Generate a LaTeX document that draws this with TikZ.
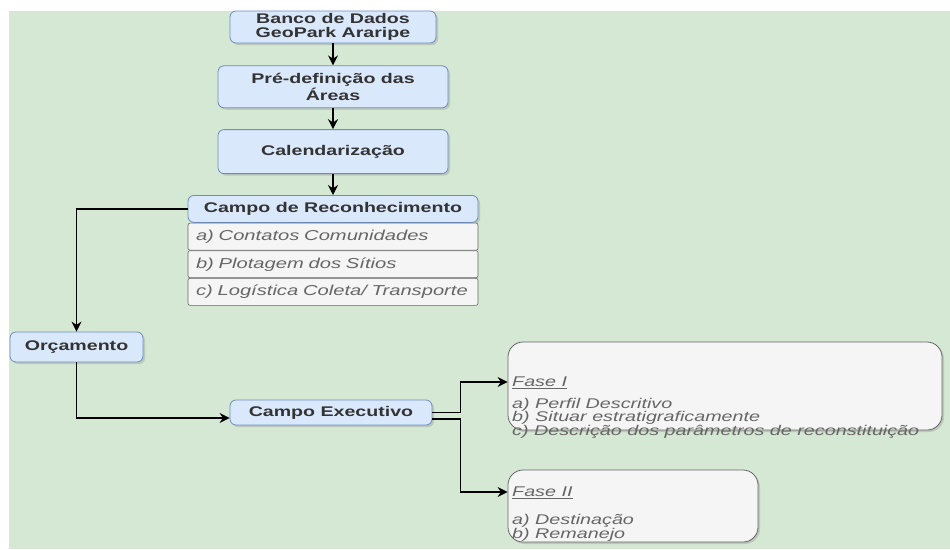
\documentclass[tikz,border=0pt]{standalone}
\usepackage{fontspec}
\setmainfont{Liberation Sans}[FakeStretch=1.4]
\usetikzlibrary{positioning,arrows.meta,shadows}

\definecolor{bggreen}{HTML}{D5E8D4}
\definecolor{boxblue}{HTML}{DAE8FC}
\definecolor{lineblue}{HTML}{6C8EBF}
\definecolor{rowgray}{HTML}{F5F5F5}
\definecolor{txtgray}{HTML}{666666}

\begin{document}
\begin{tikzpicture}[
  x=1pt, y=-1pt,
  >={Stealth[length=10pt,width=10pt]},
  stepbox/.style={draw=lineblue,fill=boxblue,rounded corners=6pt,line width=0.8pt,
    align=center,inner sep=2pt,font=\fontsize{14}{14}\selectfont\bfseries,text=black!80,
    drop shadow={opacity=0.3,shadow xshift=2pt,shadow yshift=-2pt}},
  rowbox/.style={draw=txtgray,fill=rowgray,rounded corners=2pt,line width=0.6pt,
    minimum height=27pt,text width=274pt,inner xsep=8pt,align=left,
    font=\fontsize{14.4}{14.4}\selectfont\itshape,text=txtgray},
  fasebox/.style={draw=txtgray,fill=rowgray,rounded corners=15pt,line width=0.8pt,
    drop shadow={opacity=0.3,shadow xshift=2pt,shadow yshift=-2pt}},
  fasetext/.style={anchor=north west,inner sep=0pt,align=left,
    font=\fontsize{14.1}{13.5}\selectfont\itshape,text=txtgray},
  link/.style={->,line width=1.3pt}
]
  \useasboundingbox (0,0) rectangle (950,549);
  \fill[bggreen] (9,11) rectangle (950,549);

  % coluna principal
  \node[stepbox,minimum width=206pt,minimum height=32pt] (banco) at (333,27) {Banco de Dados\\GeoPark Araripe};
  \node[stepbox,minimum width=230pt,minimum height=42pt,below=22pt of banco] (predef) {Pré-definição das\\Áreas};
  \node[stepbox,minimum width=230pt,minimum height=44pt,below=21pt of predef] (calend) {Calendarização};
  \node[stepbox,minimum width=290pt,minimum height=27pt,below=21pt of calend] (reconh) {Campo de Reconhecimento};
  \node[rowbox,below=0pt of reconh] (rowa) {a) Contatos Comunidades};
  \node[rowbox,below=0pt of rowa] (rowb) {b) Plotagem dos Sítios};
  \node[rowbox,below=0pt of rowb] (rowc) {c) Logística Coleta/ Transporte};

  \node[stepbox,minimum width=133pt,minimum height=30pt] (orcam) at (76.5,347) {Orçamento};
  \node[stepbox,minimum width=202pt,minimum height=25pt] (exec) at (331,412.5) {Campo Executivo};

  % fases
  \node[fasebox,minimum width=434pt,minimum height=88pt] (fase1) at (725,386) {};
  \node[fasebox,minimum width=250pt,minimum height=72pt] (fase2) at (633,506) {};
  \node[fasetext] (fase1txt) at (512,377) {\underline{Fase I}\\[8pt]
    a) Perfil Descritivo\\
    b) Situar estratigraficamente\\
    c) Descrição dos parâmetros de reconstituição};
  \node[fasetext] (fase2txt) at (512,487) {\underline{Fase II}\\[14pt]
    a) Destinação\\[1pt]
    b) Remanejo};

  \draw[link] (banco) -- (predef);
  \draw[link] (predef) -- (calend);
  \draw[link] (calend) -- (reconh);
  \draw[link] (reconh.west) -| (orcam.north);
  \draw[link] (orcam.south) |- ([yshift=-5.5pt]exec.west);
  \draw[link] (exec.east) -- ++(28,0) |- ([yshift=4pt]fase1.west);
  \draw[link] ([yshift=-6.5pt]exec.east) -- ++(28,0) |- ([yshift=14pt]fase2.west);
\end{tikzpicture}
\end{document}
